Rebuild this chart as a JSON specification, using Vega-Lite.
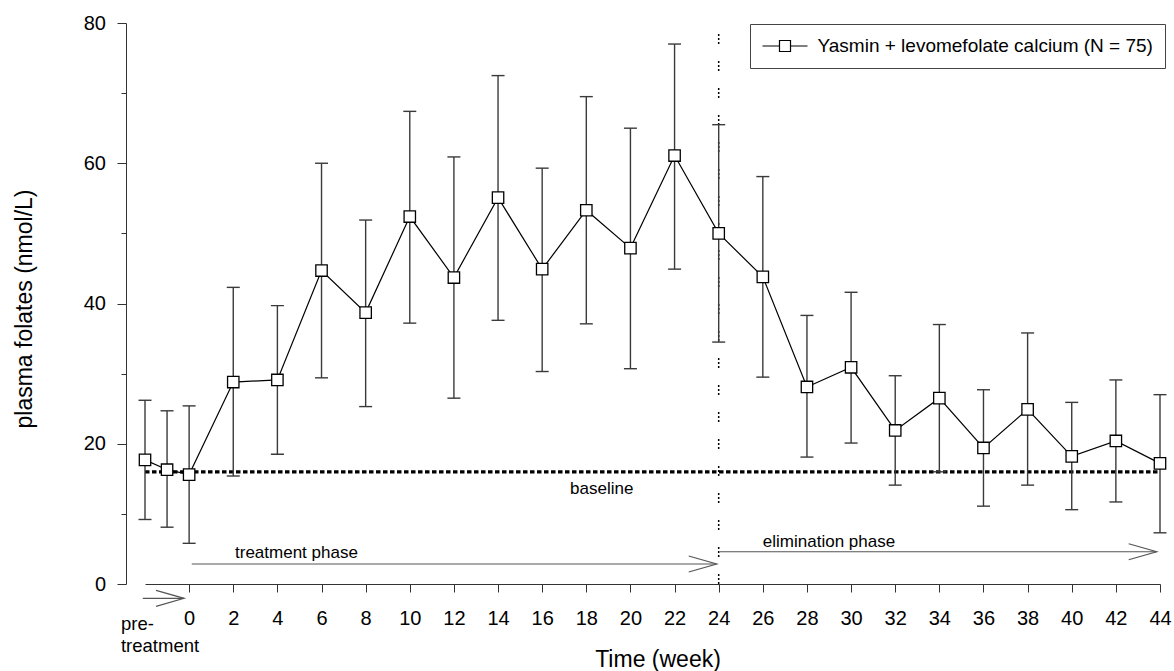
{
  "$schema": "https://vega.github.io/schema/vega-lite/v6.json",
  "width": 1015,
  "height": 561,
  "autosize": {"type": "none"},
  "padding": {"left": 145, "top": 23, "right": 14, "bottom": 87},
  "config": {
    "view": {"stroke": null},
    "font": "Liberation Sans",
    "text": {"font": "Liberation Sans", "color": "black"},
    "axisX": {"labelPadding": 16.5, "labelBaseline": "top", "tickSize": 8}
  },
  "datasets": {
    "main": [
      {"week": -2, "mean": 17.7, "lo": 9.2, "hi": 26.2},
      {"week": -1, "mean": 16.3, "lo": 8.1, "hi": 24.7},
      {"week": 0, "mean": 15.6, "lo": 5.8, "hi": 25.4},
      {"week": 2, "mean": 28.8, "lo": 15.4, "hi": 42.3},
      {"week": 4, "mean": 29.1, "lo": 18.5, "hi": 39.7},
      {"week": 6, "mean": 44.7, "lo": 29.4, "hi": 60.0},
      {"week": 8, "mean": 38.7, "lo": 25.3, "hi": 51.9},
      {"week": 10, "mean": 52.4, "lo": 37.2, "hi": 67.4},
      {"week": 12, "mean": 43.7, "lo": 26.5, "hi": 60.9},
      {"week": 14, "mean": 55.1, "lo": 37.6, "hi": 72.5},
      {"week": 16, "mean": 44.9, "lo": 30.3, "hi": 59.3},
      {"week": 18, "mean": 53.3, "lo": 37.1, "hi": 69.5},
      {"week": 20, "mean": 47.9, "lo": 30.7, "hi": 65.0},
      {"week": 22, "mean": 61.1, "lo": 44.9, "hi": 77.0},
      {"week": 24, "mean": 50.0, "lo": 34.5, "hi": 65.5},
      {"week": 26, "mean": 43.8, "lo": 29.5, "hi": 58.1},
      {"week": 28, "mean": 28.1, "lo": 18.1, "hi": 38.3},
      {"week": 30, "mean": 30.9, "lo": 20.1, "hi": 41.6},
      {"week": 32, "mean": 21.9, "lo": 14.1, "hi": 29.7},
      {"week": 34, "mean": 26.5, "lo": 16.0, "hi": 37.0},
      {"week": 36, "mean": 19.4, "lo": 11.1, "hi": 27.7},
      {"week": 38, "mean": 24.9, "lo": 14.1, "hi": 35.8},
      {"week": 40, "mean": 18.2, "lo": 10.6, "hi": 25.9},
      {"week": 42, "mean": 20.4, "lo": 11.7, "hi": 29.1},
      {"week": 44, "mean": 17.2, "lo": 7.3, "hi": 27.0}
    ],
    "baseline": [{"week": -2, "week2": 44, "mean": 16}],
    "divider": [{"week": 24, "lo": 0, "hi": 80}],
    "arrows": [
      {"name": "pre", "week": -2.1, "week2": -0.23, "mean": -2.04},
      {"name": "treatment", "week": 0.12, "week2": 23.91, "mean": 2.85},
      {"name": "elimination", "week": 24.05, "week2": 43.85, "mean": 4.6}
    ],
    "centerLabels": [
      {"label": "baseline", "week": 18.7, "mean": 12.8}
    ],
    "leftLabels": [
      {"label": "treatment phase", "week": 2.08, "mean": 3.66},
      {"label": "elimination phase", "week": 26.0, "mean": 5.32}
    ],
    "preLabels": [
      {"label": "pre-", "week": -3.09, "mean": -6.56},
      {"label": "treatment", "week": -3.09, "mean": -9.65}
    ]
  },
  "layer": [
    {
      "data": {"name": "baseline"},
      "mark": {"type": "rule", "color": "black", "strokeWidth": 3.3, "strokeDash": [4.5, 2.5]},
      "encoding": {
        "x": {"field": "week", "type": "quantitative",
          "scale": {"domain": [-2, 44], "nice": false, "zero": false},
          "title": "Time (week)",
          "axis": {
            "values": [0, 2, 4, 6, 8, 10, 12, 14, 16, 18, 20, 22, 24, 26, 28, 30, 32, 34, 36, 38, 40, 42, 44],
            "tickSize": 8, "labelPadding": 16.5, "labelBaseline": "top",
            "labelFontSize": 20, "labelColor": "black", "labelFont": "Liberation Sans",
            "domainColor": "#333", "tickColor": "#333", "grid": false,
            "labelFlush": false, "labelOverlap": false,
            "titleFontSize": 23, "titleFontWeight": "normal", "titleColor": "black", "titleFont": "Liberation Sans",
            "titleX": 512.5, "titleY": 82.7, "titleBaseline": "alphabetic"
          }
        },
        "x2": {"field": "week2"},
        "y": {"field": "mean", "type": "quantitative",
          "scale": {"domain": [0, 80], "nice": false},
          "title": "plasma folates (nmol/L)",
          "axis": {
            "offset": 19,
            "values": [0, 10, 20, 30, 40, 50, 60, 70, 80],
            "tickSize": {"condition": {"test": "datum.value % 20 === 0", "value": 9}, "value": 5},
            "labelExpr": "datum.value % 20 === 0 ? datum.label : ''",
            "labelPadding": 11.5, "labelFontSize": 20, "labelColor": "black", "labelFont": "Liberation Sans",
            "domainColor": "#333", "tickColor": "#333", "grid": false,
            "titleFontSize": 23, "titleFontWeight": "normal", "titleColor": "black", "titleFont": "Liberation Sans",
            "titleX": -94.3, "titleY": 285.5, "titleBaseline": "alphabetic", "titleAngle": -90, "titleAlign": "center"
          }
        }
      }
    },
    {
      "data": {"name": "divider"},
      "mark": {"type": "rule", "color": "black", "strokeWidth": 1.5, "strokeDash": [2, 2, 2, 2, 2, 17]},
      "encoding": {
        "x": {"field": "week", "type": "quantitative"},
        "y": {"field": "lo", "type": "quantitative"},
        "y2": {"field": "hi"}
      }
    },
    {
      "data": {"name": "main"},
      "mark": {"type": "rule", "color": "#3a3a3a", "strokeWidth": 1.4},
      "encoding": {
        "x": {"field": "week", "type": "quantitative"},
        "y": {"field": "lo", "type": "quantitative"},
        "y2": {"field": "hi"}
      }
    },
    {
      "data": {"name": "main"},
      "transform": [{"fold": ["lo", "hi"], "as": ["end", "value"]}],
      "mark": {"type": "tick", "orient": "horizontal", "size": 13, "thickness": 1.4, "color": "#3a3a3a", "opacity": 1},
      "encoding": {
        "x": {"field": "week", "type": "quantitative"},
        "y": {"field": "value", "type": "quantitative"}
      }
    },
    {
      "data": {"name": "main"},
      "mark": {"type": "line", "strokeWidth": 1.2},
      "encoding": {
        "x": {"field": "week", "type": "quantitative"},
        "y": {"field": "mean", "type": "quantitative"},
        "color": {
          "datum": "Yasmin + levomefolate calcium (N = 75)",
          "type": "nominal",
          "scale": {"range": ["black"]},
          "legend": {
            "title": null,
            "orient": "none",
            "legendX": 605,
            "legendY": 1,
            "symbolType": "M-2.37,0H-0.58M0.58,0H2.37M-0.58,-0.58H0.58V0.58H-0.58Z",
            "symbolSize": 361,
            "symbolOffset": 13,
            "labelOffset": 22,
            "labelFontSize": 19,
            "labelFont": "Liberation Sans",
            "labelColor": "black",
            "labelLimit": 0,
            "padding": 11.5,
            "strokeColor": "#444",
            "fillColor": "white",
            "symbolStrokeWidth": 1.2,
            "symbolFillColor": "white",
            "symbolStrokeColor": "black",
            "encode": {
              "symbols": {"update": {"fill": {"value": "white"}, "stroke": {"value": "black"}, "strokeWidth": {"value": 1.2}, "opacity": {"value": 1}}}
            }
          }
        }
      }
    },
    {
      "data": {"name": "main"},
      "mark": {"type": "point", "shape": "square", "size": 130, "filled": true, "fill": "white", "stroke": "black", "strokeWidth": 1.3, "opacity": 1},
      "encoding": {
        "x": {"field": "week", "type": "quantitative"},
        "y": {"field": "mean", "type": "quantitative"}
      }
    },
    {
      "data": {"name": "arrows"},
      "mark": {"type": "rule", "color": "#555", "strokeWidth": 1.2},
      "encoding": {
        "x": {"field": "week", "type": "quantitative"},
        "x2": {"field": "week2"},
        "y": {"field": "mean", "type": "quantitative"}
      }
    },
    {
      "data": {"name": "arrows"},
      "mark": {"type": "point", "shape": "M-5.6,-1.6L0,0L-5.6,1.6", "size": 100, "filled": false, "fill": null, "stroke": "#555", "strokeWidth": 1.2, "opacity": 1},
      "encoding": {
        "x": {"field": "week2", "type": "quantitative"},
        "y": {"field": "mean", "type": "quantitative"}
      }
    },
    {
      "data": {"name": "centerLabels"},
      "mark": {"type": "text", "baseline": "alphabetic", "align": "center", "fontSize": 17, "color": "black"},
      "encoding": {
        "x": {"field": "week", "type": "quantitative"},
        "y": {"field": "mean", "type": "quantitative"},
        "text": {"field": "label"}
      }
    },
    {
      "data": {"name": "leftLabels"},
      "mark": {"type": "text", "baseline": "alphabetic", "align": "left", "fontSize": 17, "color": "black"},
      "encoding": {
        "x": {"field": "week", "type": "quantitative"},
        "y": {"field": "mean", "type": "quantitative"},
        "text": {"field": "label"}
      }
    },
    {
      "data": {"name": "preLabels"},
      "mark": {"type": "text", "baseline": "alphabetic", "align": "left", "fontSize": 18.5, "color": "black"},
      "encoding": {
        "x": {"field": "week", "type": "quantitative"},
        "y": {"field": "mean", "type": "quantitative"},
        "text": {"field": "label"}
      }
    }
  ]
}
